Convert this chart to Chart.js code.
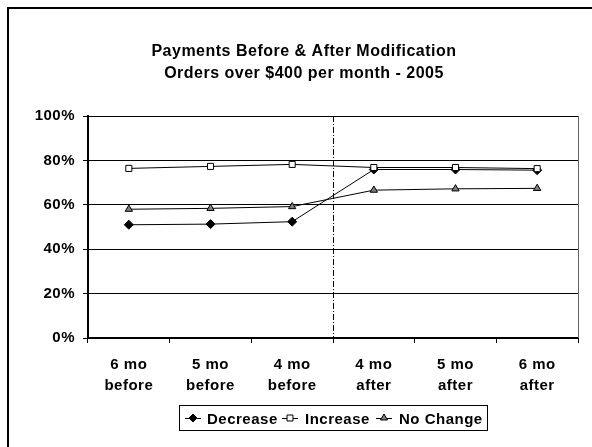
<!DOCTYPE html>
<html>
<head>
<meta charset="utf-8">
<script src="https://cdn.jsdelivr.net/npm/chart.js@4"></script>
<style>
  html, body { margin: 0; padding: 0; background: #fff; }
  #wrap { width: 592px; height: 447px; }
</style>
</head>
<body>
<div id="wrap"><canvas id="myChart" width="592" height="447"></canvas></div>
<script>
// datos
const categories = [['6 mo', 'before'], ['5 mo', 'before'], ['4 mo', 'before'], ['4 mo', 'after'], ['5 mo', 'after'], ['6 mo', 'after']];
const decrease = [51.0, 51.3, 52.4, 75.9, 75.9, 75.6];
const increase = [76.4, 77.3, 78.2, 76.8, 76.8, 76.3];
const noChange = [58.0, 58.4, 59.2, 66.6, 67.2, 67.4];
const yTicks = [0, 20, 40, 60, 80, 100];
const titleLines = ['Payments Before & After Modification', 'Orders over $400 per month - 2005'];
const seriesNames = ['Decrease', 'Increase', 'No Change'];

const FONT = "'Liberation Sans', Arial, sans-serif";

// espaciado de letras como en el original
const spacing = {
    id: 'spacing',
    beforeUpdate(chart) { chart.ctx.letterSpacing = '0.5px'; },
    beforeDraw(chart) { chart.ctx.letterSpacing = '0.5px'; }
};

// marcos, titulo, linea vertical y leyenda
const extras = {
    id: 'extras',
    afterDraw(chart) {
        const ctx = chart.ctx;
        const area = chart.chartArea;
        const x = chart.scales.x;
        ctx.save();
        // borde exterior
        ctx.strokeStyle = '#000';
        ctx.lineWidth = 2;
        ctx.strokeRect(8, 8, 600, 460);
        // borde derecho del area
        ctx.lineWidth = 1;
        ctx.strokeStyle = '#666';
        ctx.beginPath();
        ctx.moveTo(Math.round(area.right) + 0.5, area.top);
        ctx.lineTo(Math.round(area.right) + 0.5, area.bottom);
        ctx.stroke();
        // linea de modificacion
        const vx = Math.round(x.getPixelForValue(2.5)) + 0.5;
        ctx.strokeStyle = '#000';
        ctx.setLineDash([6, 2, 1, 2]);
        ctx.beginPath();
        ctx.moveTo(vx, area.top);
        ctx.lineTo(vx, area.bottom);
        ctx.stroke();
        ctx.setLineDash([]);
        // titulo
        ctx.fillStyle = '#000';
        ctx.font = 'bold 16px ' + FONT;
        ctx.textAlign = 'center';
        ctx.textBaseline = 'alphabetic';
        ctx.fillText(titleLines[0], 304, 56);
        ctx.fillText(titleLines[1], 304, 77.5);
        // leyenda
        ctx.lineWidth = 1;
        ctx.strokeRect(179.5, 405.5, 308, 25);
        ctx.font = 'bold 15px ' + FONT;
        ctx.textAlign = 'left';
        const items = [
            { x: 185, tx: 207, style: 'rectRot', fill: '#000', r: 4 },
            { x: 282, tx: 305, style: 'rect', fill: '#fff', r: 4.2 },
            { x: 376, tx: 399, style: 'triangle', fill: '#808080', r: 4 }
        ];
        items.forEach((it, i) => {
            const ly = 418;
            ctx.strokeStyle = '#000';
            ctx.beginPath();
            ctx.moveTo(it.x, ly + 0.5);
            ctx.lineTo(it.x + 16, ly + 0.5);
            ctx.stroke();
            ctx.fillStyle = it.fill;
            Chart.helpers.drawPoint(ctx, { pointStyle: it.style, radius: it.r, borderWidth: 1 }, it.x + 8, ly);
            ctx.fillStyle = '#000';
            ctx.fillText(seriesNames[i], it.tx, 423.5);
        });
        ctx.restore();
    }
};

const ctx = document.getElementById('myChart');
new Chart(ctx, {
    type: 'line',
    data: {
        labels: categories,
        datasets: [{
            label: seriesNames[0],
            data: decrease,
            borderColor: '#000',
            borderWidth: 1,
            pointStyle: 'rectRot',
            pointRadius: 4.5,
            pointBackgroundColor: '#000',
            pointBorderColor: '#000',
            order: 1
        }, {
            label: seriesNames[1],
            data: increase,
            borderColor: '#000',
            borderWidth: 1,
            pointStyle: 'rect',
            pointRadius: 4.3,
            pointBackgroundColor: '#fff',
            pointBorderColor: '#000',
            order: 0
        }, {
            label: seriesNames[2],
            data: noChange,
            borderColor: '#000',
            borderWidth: 1,
            pointStyle: 'triangle',
            pointRadius: 4.2,
            pointBackgroundColor: '#808080',
            pointBorderColor: '#000',
            order: 2
        }]
    },
    options: {
        responsive: false,
        animation: false,
        layout: { padding: { top: 116, left: 0, right: 14, bottom: 0 } },
        plugins: {
            legend: { display: false },
            title: { display: false },
            tooltip: { enabled: false }
        },
        scales: {
            x: {
                offset: true,
                grid: { offset: true, drawOnChartArea: false, drawTicks: true, tickLength: 5, color: '#000' },
                border: { color: '#000', width: 2 },
                ticks: { color: '#000', font: { family: FONT, size: 15, weight: 'bold', lineHeight: 1.35 }, padding: 12, maxRotation: 0 },
                afterFit(scale) { scale.height = 109; }
            },
            y: {
                min: 0,
                max: 100,
                afterBuildTicks(scale) { scale.ticks = yTicks.map(v => ({ value: v })); },
                grid: { color: '#000', tickLength: 5, lineWidth: 1 },
                border: { color: '#000', width: 2 },
                ticks: {
                    color: '#000',
                    font: { family: FONT, size: 15, weight: 'bold' },
                    padding: 8,
                    callback: v => v + '%'
                },
                afterFit(scale) { scale.width = 88; }
            }
        }
    },
    plugins: [spacing, extras]
});
</script>
</body>
</html>
